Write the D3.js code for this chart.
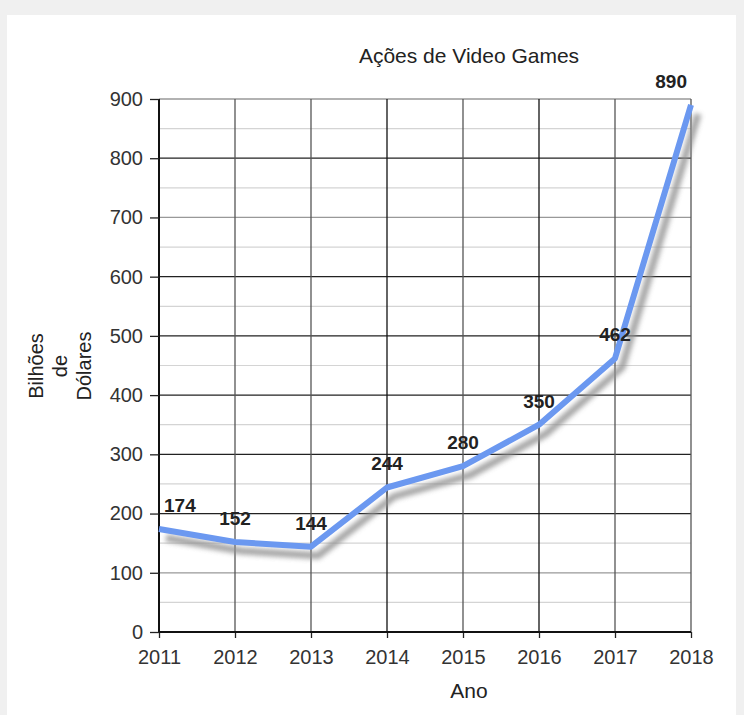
<!DOCTYPE html>
<html>
<head>
<meta charset="utf-8">
<script src="https://cdn.jsdelivr.net/npm/d3@7"></script>
<style>
  body { margin: 0; background: #f0f0f0; }
  svg { display: block; }
</style>
</head>
<body>
<script>
// data
let years = [2011, 2012, 2013, 2014, 2015, 2016, 2017, 2018];
let values = [174, 152, 144, 244, 280, 350, 462, 890];
let yTicks = [0, 100, 200, 300, 400, 500, 600, 700, 800, 900];

let svg = d3.select("body").append("svg")
  .attr("width", 744)
  .attr("height", 715);

let width = +svg.attr("width");
let height = +svg.attr("height");

let font = "Liberation Sans, Arial, sans-serif";

// white panel
svg.append("rect")
  .attr("x", 7).attr("y", 15)
  .attr("width", 729).attr("height", height - 15)
  .attr("fill", "#fff");

let margin = { top: 99, right: 53, bottom: 83, left: 159 };

let x = d3.scaleLinear().domain([2011, 2018]).range([0, 532]);
let y = d3.scaleLinear().domain([0, 900]).range([533, 0]);

let g = svg.append("g")
  .attr("transform", `translate(${margin.left}, ${margin.top})`);

let defs = svg.append("defs");
let shadow = defs.append("filter").attr("id", "shadow")
  .attr("x", "-10%").attr("y", "-10%").attr("width", "130%").attr("height", "130%");
shadow.append("feGaussianBlur").attr("stdDeviation", 2.5);

// minor gridlines every 50
g.append("g").selectAll("line")
  .data(d3.range(50, 900, 100))
  .enter().append("line")
  .attr("x1", 0).attr("x2", 532)
  .attr("y1", d => y(d)).attr("y2", d => y(d))
  .attr("stroke", "#d4d4d4")
  .attr("stroke-width", 1.2);

// major gridlines
g.append("g").selectAll("line")
  .data(yTicks.slice(1))
  .enter().append("line")
  .attr("x1", 0).attr("x2", 532)
  .attr("y1", d => y(d)).attr("y2", d => y(d))
  .attr("stroke", d => (d == 100 || d == 700 || d == 900) ? "#999" : "#222")
  .attr("stroke-width", 1.3);

// vertical gridlines
g.append("g").selectAll("line")
  .data(years)
  .enter().append("line")
  .attr("x1", d => x(d)).attr("x2", d => x(d))
  .attr("y1", 0).attr("y2", 533)
  .attr("stroke", d => (d == 2011 || d == 2014 || d == 2016) ? "#111" : "#555")
  .attr("stroke-width", d => d == 2011 ? 2 : 1.3);

// axes
let yAxis = d3.axisLeft(y).tickValues(yTicks).tickSize(9).tickPadding(7);
let xAxis = d3.axisBottom(x).tickValues(years).tickFormat(d3.format("d")).tickSize(6).tickPadding(12);

let yG = g.append("g").call(yAxis);
let xG = g.append("g").attr("transform", "translate(0, 533)").call(xAxis);

[yG, xG].forEach(a => {
  a.attr("font-size", null).attr("font-family", null);
  a.select(".domain").remove();
  a.selectAll(".tick line").attr("stroke", "#222").attr("stroke-width", 1.3);
  a.selectAll(".tick text")
    .attr("font-family", font)
    .attr("font-size", 20)
    .attr("fill", "#333");
});
xG.selectAll(".tick text").attr("dy", "0.7em");
g.append("line")
  .attr("x1", 0).attr("x2", 532).attr("y1", 533).attr("y2", 533)
  .attr("stroke", "#111").attr("stroke-width", 2);

// the line with a soft shadow
let line = d3.line()
  .x((d, i) => x(years[i]))
  .y(d => y(d));

g.append("path")
  .datum(values)
  .attr("d", line)
  .attr("transform", "translate(7, 9)")
  .attr("fill", "none")
  .attr("stroke", "#8e8e8e")
  .attr("stroke-width", 7)
  .attr("stroke-linejoin", "round")
  .attr("opacity", 0.8)
  .attr("filter", "url(#shadow)");

g.append("path")
  .datum(values)
  .attr("d", line)
  .attr("fill", "none")
  .attr("stroke", "#6b98f0")
  .attr("stroke-width", 6)
  .attr("stroke-linejoin", "round");

// value labels
g.append("g").selectAll("text")
  .data(values)
  .enter().append("text")
  .attr("x", (d, i) => i == 0 ? x(years[i]) + 5 : i == values.length - 1 ? x(years[i]) - 4 : x(years[i]))
  .attr("y", d => y(d) - 17)
  .attr("text-anchor", (d, i) => i == 0 ? "start" : i == values.length - 1 ? "end" : "middle")
  .attr("font-family", font)
  .attr("font-size", 19)
  .attr("font-weight", "bold")
  .attr("fill", "#222")
  .text(d => d);

// title and axis titles
svg.append("text")
  .attr("x", 469).attr("y", 63)
  .attr("text-anchor", "middle")
  .attr("font-family", font)
  .attr("font-size", 21)
  .attr("fill", "#222")
  .text("Ações de Video Games");

svg.append("text")
  .attr("x", 469).attr("y", 698)
  .attr("text-anchor", "middle")
  .attr("font-family", font)
  .attr("font-size", 21)
  .attr("fill", "#222")
  .text("Ano");

let yTitle = svg.append("text")
  .attr("transform", "translate(0, 366) rotate(-90)")
  .attr("text-anchor", "middle")
  .attr("font-family", font)
  .attr("font-size", 20)
  .attr("fill", "#222");

["Bilhões", "de", "Dólares"].forEach((t, i) => {
  yTitle.append("tspan")
    .attr("x", 0)
    .attr("y", 43 + i * 24)
    .text(t);
});
</script>
</body>
</html>
